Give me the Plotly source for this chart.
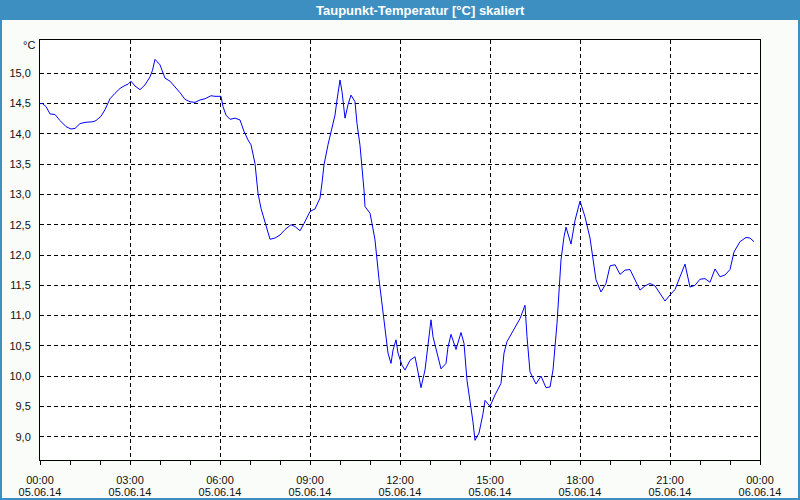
import plotly.graph_objects as go
import pandas as pd

# minutes after 2014-06-05 00:00
minutes = [0, 5, 12, 20, 30, 40, 52, 62, 70, 80, 90, 106, 112, 122, 130, 140, 150, 160, 170, 176,
           182, 190, 200, 210, 220, 225, 230, 240, 244, 250, 260, 270, 280, 290, 300, 310, 320, 330, 342, 350,
           360, 362, 366, 372, 380, 390, 400, 408, 416, 422, 430, 436, 442, 450, 460, 470, 480, 490, 502, 510,
           520, 528, 540, 550, 560, 564, 568, 576, 582, 590, 594, 600, 604, 610, 616, 622, 630, 634, 640, 644,
           648, 650, 660, 664, 670, 678, 686, 692, 696, 702, 706, 712, 716, 724, 730, 740, 750, 756, 762, 770,
           776, 782, 786, 794, 802, 812, 816, 822, 832, 842, 848, 854, 860, 866, 870, 878, 886, 890, 900, 910,
           922, 928, 934, 946, 960, 970, 974, 980, 992, 1002, 1012, 1020, 1026, 1034, 1038, 1042, 1048, 1052, 1062, 1070,
           1080, 1090, 1100, 1106, 1112, 1122, 1132, 1140, 1150, 1160, 1170, 1180, 1190, 1200, 1210, 1220, 1230, 1240, 1250, 1260,
           1270, 1280, 1290, 1300, 1310, 1320, 1330, 1340, 1350, 1360, 1370, 1380, 1388, 1400, 1412, 1420, 1428]

dewpoint = [14.50, 14.50, 14.45, 14.33, 14.32, 14.22, 14.12, 14.08, 14.09, 14.17, 14.19, 14.20, 14.22, 14.29, 14.40, 14.58, 14.67, 14.75, 14.80, 14.82,
            14.87, 14.79, 14.73, 14.81, 14.94, 15.05, 15.23, 15.14, 15.05, 14.92, 14.87, 14.78, 14.68, 14.57, 14.53, 14.52, 14.56, 14.58, 14.63, 14.62,
            14.62, 14.62, 14.45, 14.31, 14.24, 14.26, 14.23, 14.04, 13.90, 13.82, 13.51, 13.02, 12.77, 12.55, 12.26, 12.28, 12.33, 12.42, 12.50, 12.47,
            12.40, 12.52, 12.72, 12.76, 12.94, 13.19, 13.49, 13.82, 14.01, 14.31, 14.56, 14.89, 14.70, 14.26, 14.48, 14.64, 14.53, 14.17, 13.81, 13.46,
            13.07, 12.80, 12.69, 12.52, 12.25, 11.60, 11.04, 10.71, 10.38, 10.21, 10.43, 10.60, 10.38, 10.18, 10.10, 10.26, 10.32, 10.07, 9.81, 10.10,
            10.48, 10.93, 10.65, 10.38, 10.12, 10.21, 10.48, 10.69, 10.44, 10.72, 10.54, 9.93, 9.60, 9.24, 8.94, 9.06, 9.38, 9.60, 9.50, 9.69,
            9.88, 10.38, 10.57, 10.74, 10.95, 11.17, 10.65, 10.07, 9.87, 10.00, 9.81, 9.82, 10.10, 10.87, 11.43, 11.92, 12.30, 12.46, 12.18, 12.57,
            12.89, 12.63, 12.28, 11.92, 11.59, 11.39, 11.53, 11.82, 11.84, 11.68, 11.75, 11.76, 11.59, 11.42, 11.49, 11.53, 11.49, 11.36, 11.24, 11.34,
            11.43, 11.64, 11.85, 11.47, 11.50, 11.60, 11.61, 11.55, 11.77, 11.64, 11.67, 11.76, 12.05, 12.22, 12.29, 12.28, 12.22]

y_ticks = [9.0, 9.5, 10.0, 10.5, 11.0, 11.5, 12.0, 12.5, 13.0, 13.5, 14.0, 14.5, 15.0]

title_text = "Taupunkt-Temperatur [°C] skaliert"
unit_text = "°C"
time_format = "%H:%M"
date_format = "%d.%m.%y"

start = pd.Timestamp("2014-06-05 00:00")
end = start + pd.Timedelta(hours=24)
times = [start + pd.Timedelta(minutes=m) for m in minutes]

W, H = 800, 500
L, R, T, B = 40, 40, 40, 40
PW, PH = W - L - R, H - T - B


def px_x(px):
    return (px - L) / PW


def px_y(py):
    return (H - B - py) / PH


BLUE = "#3d8fc2"
BG = "#fafcfa"
TXT = "#111111"
LABEL_FONT = dict(family="Liberation Sans, Arial, sans-serif", size=11, color=TXT)

fig = go.Figure()
fig.add_trace(go.Scatter(x=times, y=dewpoint, mode="lines",
                         line=dict(color="#0000ff", width=1), hoverinfo="skip"))
# empty trace on the overlay axis that carries the date line of the tick labels
fig.add_trace(go.Scatter(x=[start, end], y=[None, None], xaxis="x2", mode="lines",
                         hoverinfo="skip", showlegend=False))

shapes = [
    dict(type="rect", xref="paper", yref="paper", x0=px_x(0), x1=px_x(W), y0=px_y(20), y1=px_y(0),
         fillcolor=BLUE, line=dict(width=0), layer="below"),
    dict(type="rect", xref="paper", yref="paper", x0=px_x(0), x1=px_x(2), y0=px_y(H), y1=px_y(20),
         fillcolor=BLUE, line=dict(width=0), layer="below"),
    dict(type="rect", xref="paper", yref="paper", x0=px_x(W - 2), x1=px_x(W), y0=px_y(H), y1=px_y(20),
         fillcolor=BLUE, line=dict(width=0), layer="below"),
    dict(type="rect", xref="paper", yref="paper", x0=px_x(0), x1=px_x(W), y0=px_y(H), y1=px_y(H - 2),
         fillcolor=BLUE, line=dict(width=0), layer="below"),
]

fig.update_layout(
    width=W, height=H,
    margin=dict(l=L, r=R, t=T, b=B, pad=0),
    paper_bgcolor=BG, plot_bgcolor="#ffffff",
    showlegend=False,
    separators=",.",
    font=dict(family="Liberation Sans, Arial, sans-serif", size=11, color=TXT),
    shapes=shapes,
    annotations=[
        dict(text="<b>" + title_text + "</b>", xref="paper", yref="paper", x=px_x(420), y=px_y(10),
             xanchor="center", yanchor="middle", showarrow=False,
             font=dict(family="Liberation Sans Narrow, Liberation Sans, Arial", size=13, color="#ffffff")),
        dict(text=unit_text, xref="paper", yref="paper", x=px_x(37), y=px_y(45),
             xanchor="right", yanchor="middle", showarrow=False,
             font=dict(family="Liberation Sans Narrow, Liberation Sans, Arial", size=11, color=TXT)),
    ],
    xaxis=dict(
        type="date", automargin=False,
        range=[start, end], tick0=start, dtick=3 * 3600 * 1000,
        tickformat=time_format, tickfont=LABEL_FONT,
        ticks="outside", ticklen=4, tickcolor="#000000", tickwidth=1,
        ticklabelstandoff=6,
        minor=dict(dtick=3600 * 1000, tick0=start, ticks="outside", ticklen=4,
                   tickcolor="#000000", showgrid=False),
        showgrid=True, gridcolor="#000000", gridwidth=1, griddash="4px,3px",
        showline=True, linecolor="#000000", linewidth=1, mirror=True,
        zeroline=False, fixedrange=True,
    ),
    xaxis2=dict(
        type="date", overlaying="x", anchor="y", side="bottom", automargin=False,
        range=[start, end], tick0=start, dtick=3 * 3600 * 1000,
        tickformat=date_format, tickfont=LABEL_FONT,
        ticks="", ticklabelstandoff=24,
        showgrid=False, showline=False, zeroline=False, fixedrange=True,
    ),
    yaxis=dict(
        automargin=False,
        range=[8.615, 15.55],
        tickmode="array", tickvals=y_ticks, tickformat=".1f",
        ticks="", ticklabelstandoff=6,
        showgrid=True, gridcolor="#000000", gridwidth=1, griddash="4px,3px",
        showline=True, linecolor="#000000", linewidth=1, mirror=True,
        zeroline=False,
        tickfont=dict(family="Liberation Sans Narrow, Liberation Sans, Arial", size=11, color=TXT),
        fixedrange=True,
    ),
)

fig.write_html("out.html")
